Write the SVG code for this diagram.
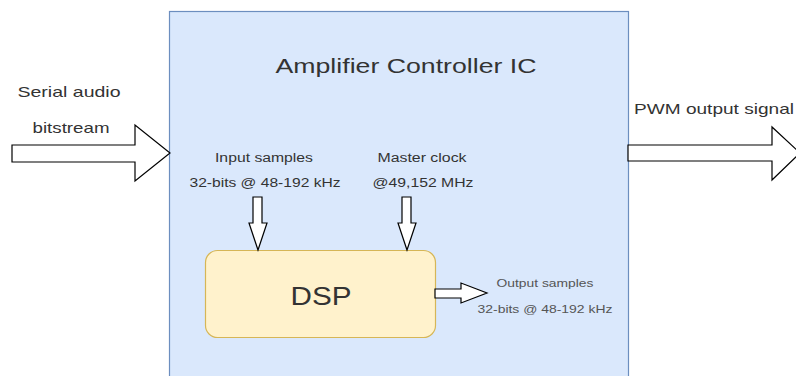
<svg xmlns="http://www.w3.org/2000/svg" width="796" height="376" viewBox="0 0 796 376">
  <style>
    text { font-family: "Liberation Sans", Arial, sans-serif; fill: #333333; }
    .arrow { fill: #ffffff; stroke: #000000; stroke-width: 1.2; stroke-linejoin: miter; }
    .lbl { font-size: 15px; }
    .small { font-size: 12.5px; text-anchor: middle; }
    .tiny { font-size: 11px; text-anchor: middle; fill: #555555; }
  </style>
  <rect width="796" height="376" fill="#ffffff"/>

  <g id="ic">
    <rect x="169.5" y="11.5" width="459" height="380" fill="#dae8fc" stroke="#6c8ebf" stroke-width="1.2"/>
    <text x="406" y="73" font-size="20" text-anchor="middle" textLength="261" lengthAdjust="spacingAndGlyphs">Amplifier Controller IC</text>
  </g>

  <g id="dsp">
    <rect x="205.5" y="250.5" width="230" height="87" rx="12" fill="#fff2cc" stroke="#d6b656" stroke-width="1.2"/>
    <text x="321" y="305" font-size="26" text-anchor="middle" fill="#111111" textLength="61" lengthAdjust="spacingAndGlyphs">DSP</text>
  </g>

  <g id="labels">
    <text class="lbl" x="69" y="97" text-anchor="middle" textLength="103" lengthAdjust="spacingAndGlyphs">Serial audio</text>
    <text class="lbl" x="71" y="133" text-anchor="middle" textLength="77" lengthAdjust="spacingAndGlyphs">bitstream</text>
    <text class="lbl" x="634" y="114" textLength="160" lengthAdjust="spacingAndGlyphs">PWM output signal</text>
    <text class="small" x="264" y="162" textLength="98" lengthAdjust="spacingAndGlyphs">Input samples</text>
    <text class="small" x="265" y="187" textLength="151" lengthAdjust="spacingAndGlyphs">32-bits @ 48-192 kHz</text>
    <text class="small" x="422" y="162" textLength="89" lengthAdjust="spacingAndGlyphs">Master clock</text>
    <text class="small" x="423" y="187" textLength="101" lengthAdjust="spacingAndGlyphs">@49,152 MHz</text>
    <text class="tiny" x="545" y="287" textLength="97" lengthAdjust="spacingAndGlyphs">Output samples</text>
    <text class="tiny" x="545" y="313" textLength="135" lengthAdjust="spacingAndGlyphs">32-bits @ 48-192 kHz</text>
  </g>

  <g id="connectors">
    <!-- serial input into the IC -->
    <path class="arrow" d="M12,145 L135,145 L135,125 L170,153 L135,181 L135,162 L12,162 Z"/>
    <!-- PWM output -->
    <path class="arrow" d="M628,145 L772,145 L772,127 L800,153 L772,180 L772,161 L628,161 Z"/>
    <!-- input samples into DSP -->
    <path class="arrow" d="M253,197 L262,197 L262,223 L267,223 L258,250 L249,223 L253,223 Z"/>
    <!-- master clock into DSP -->
    <path class="arrow" d="M402,197 L411,197 L411,223 L416,223 L407,250 L398,223 L402,223 Z"/>
    <!-- output samples -->
    <path class="arrow" d="M435,289 L461,289 L461,283 L487,293 L461,303 L461,298 L435,298 Z"/>
  </g>
</svg>
